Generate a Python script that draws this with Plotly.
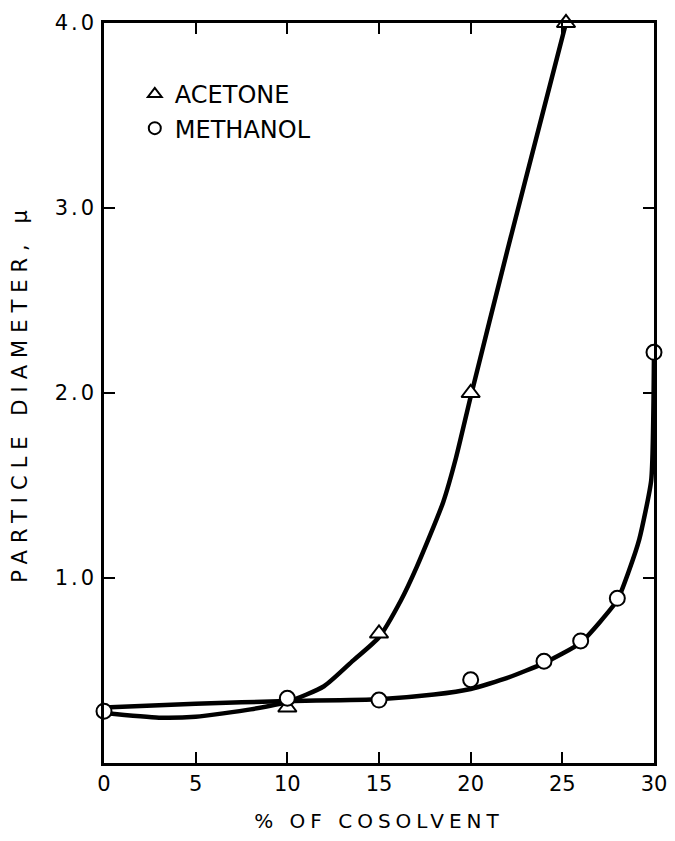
import plotly.graph_objects as go

# measured points
acetone_x = [10, 15, 20, 25.2]
acetone_y = [0.30, 0.70, 2.0, 4.0]
methanol_x = [0, 10, 15, 20, 24, 26, 28, 30]
methanol_y = [0.28, 0.35, 0.34, 0.45, 0.55, 0.66, 0.89, 2.22]

# smooth curves
acetone_curve_x = [0, 3, 5, 8, 10, 12, 13.6, 15, 16.2, 17.06, 18.5, 19.2, 20, 22, 24, 25.2]
acetone_curve_y = [0.27, 0.245, 0.25, 0.29, 0.33, 0.415, 0.555, 0.68, 0.88, 1.06, 1.41, 1.65, 1.98, 2.77, 3.54, 4.0]
methanol_curve_x = [0, 5, 10, 15, 18, 20, 22, 24, 26, 28, 28.6, 29.2, 29.85, 30]
methanol_curve_y = [0.30, 0.32, 0.335, 0.345, 0.37, 0.40, 0.46, 0.54, 0.65, 0.88, 1.03, 1.21, 1.53, 2.22]

x_ticks = [0, 5, 10, 15, 20, 25, 30]
x_labels = ["0", "5", "10", "15", "20", "25", "30"]
y_ticks = [1, 2, 3, 4]
y_labels = ["1.0", "2.0", "3.0", "4.0"]

FONT = "DejaVu Sans"


def spaced(text, px):
    return f'<span style="letter-spacing:{px}px">{text}</span>'


fig = go.Figure()
fig.add_trace(go.Scatter(x=acetone_curve_x, y=acetone_curve_y, mode="lines",
                         line=dict(color="black", width=4.5, shape="spline", smoothing=0.6),
                         showlegend=False, hoverinfo="skip", cliponaxis=False))
fig.add_trace(go.Scatter(x=methanol_curve_x, y=methanol_curve_y, mode="lines",
                         line=dict(color="black", width=4.5, shape="spline", smoothing=0.5),
                         showlegend=False, hoverinfo="skip", cliponaxis=False))
fig.add_trace(go.Scatter(x=acetone_x, y=acetone_y, mode="markers", name="ACETONE",
                         marker=dict(symbol="triangle-up", size=16, color="white",
                                     line=dict(color="black", width=2)),
                         cliponaxis=False))
fig.add_trace(go.Scatter(x=methanol_x, y=methanol_y, mode="markers", name="METHANOL",
                         marker=dict(symbol="circle", size=15, color="white",
                                     line=dict(color="black", width=2)),
                         cliponaxis=False))

fig.update_layout(
    width=667, height=825,
    margin=dict(l=96, r=21, t=15, b=70, autoexpand=False),
    paper_bgcolor="white", plot_bgcolor="white",
    font=dict(family=FONT, color="black"),
    legend=dict(x=0.056, y=0.934, xanchor="left", yanchor="top",
                bgcolor="rgba(0,0,0,0)", font=dict(size=24, family=FONT),
                itemsizing="constant"),
    xaxis=dict(range=[0, 30], tickvals=x_ticks, ticktext=x_labels, automargin=False,
               ticklabeloverflow="allow",
               ticks="inside", ticklen=11, tickwidth=1.5, tickcolor="black",
               showline=True, linecolor="black", linewidth=2.5, mirror="allticks",
               showgrid=False, zeroline=False, tickfont=dict(size=21),
               title=dict(text=spaced("% OF COSOLVENT", 5), font=dict(size=20), standoff=22)),
    yaxis=dict(range=[0, 4.0], tickvals=y_ticks, ticktext=[spaced(t, 3) for t in y_labels],
               automargin=False, ticklabeloverflow="allow",
               ticks="inside", ticklen=11, tickwidth=1.5, tickcolor="black",
               showline=True, linecolor="black", linewidth=2.5, mirror="allticks",
               showgrid=False, zeroline=False, tickfont=dict(size=21),
               title=dict(text=spaced("PARTICLE DIAMETER, μ", 7), font=dict(size=21), standoff=22)),
)

fig.write_html("out.html")
